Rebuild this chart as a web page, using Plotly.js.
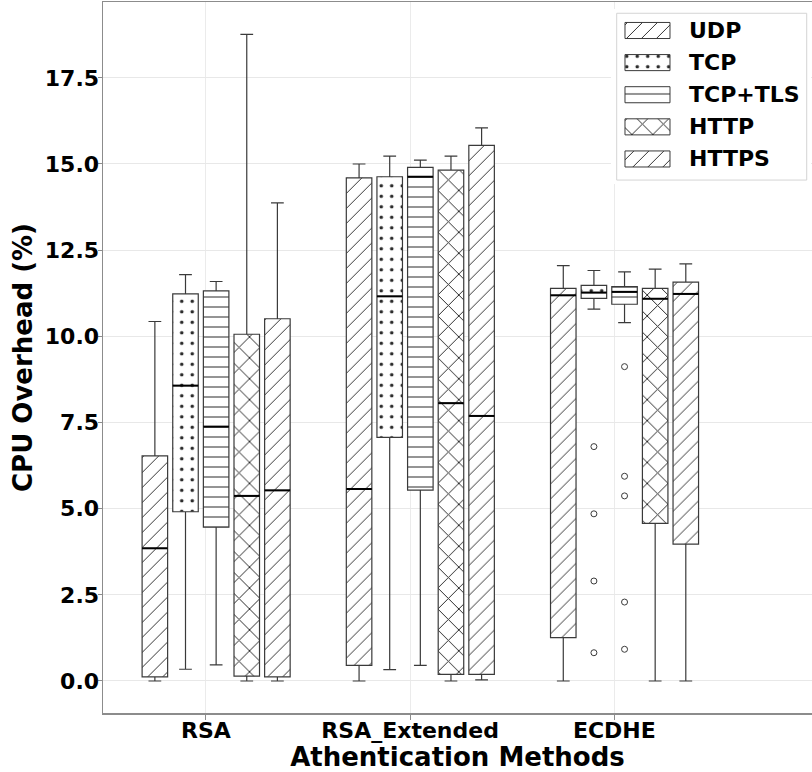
<!DOCTYPE html>
<html><head><meta charset="utf-8">
<script src="https://cdn.plot.ly/plotly-3.0.1.min.js"></script>
<style>html,body{margin:0;padding:0;background:#fff}</style>
</head><body>
<div id="chart" style="width:812px;height:772px"></div>
<script>
// ---------- data ----------
const categories = ['RSA', 'RSA_Extended', 'ECDHE'];
const protocols = ['UDP', 'TCP', 'TCP+TLS', 'HTTP', 'HTTPS'];

// each row: one protocol, values per category (RSA, RSA_Extended, ECDHE)
const whiskerLow = [
  [0.00, 0.00, 0.00],
  [0.34, 0.33, 10.79],
  [0.47, 0.45, 10.40],
  [0.00, 0.00, 0.00],
  [0.00, 0.03, 0.00]
];
const quartile1 = [
  [0.12, 0.45, 1.26],
  [4.91, 7.07, 11.10],
  [4.46, 5.54, 10.93],
  [0.14, 0.19, 4.57],
  [0.12, 0.19, 3.97]
];
const medians = [
  [3.85, 5.57, 11.19],
  [8.57, 11.16, 11.27],
  [7.38, 14.63, 11.29],
  [5.37, 8.06, 11.09],
  [5.53, 7.69, 11.23]
];
const quartile3 = [
  [6.53, 14.60, 11.39],
  [11.23, 14.63, 11.48],
  [11.32, 14.90, 11.44],
  [10.06, 14.82, 11.39],
  [10.51, 15.54, 11.57]
];
const whiskerHigh = [
  [10.43, 15.00, 12.05],
  [11.79, 15.23, 11.91],
  [11.59, 15.11, 11.87],
  [18.76, 15.23, 11.95],
  [13.87, 16.05, 12.10]
];
// fliers (all in the ECDHE group)
const fliersTCP = [6.80, 4.85, 2.90, 0.82];
const fliersTLS = [9.12, 5.94, 5.37, 2.29, 0.92];

const yTicks = [0, 2.5, 5, 7.5, 10, 12.5, 15, 17.5];

// ---------- styling ----------
const offsets = [-0.25, -0.10, 0.05, 0.20, 0.35];
const boxW = 0.125;
const patShape = ['/', '.', '-', 'x', '/'];
const patSize = [10.6, 10.5, 10, 14.8, 10.6];
const patSolid = [0.09, 0.09, 0.1, 0.13, 0.09];
const edge = '#3a3a3a';
const hatch = '#2a2a2a';
const fontFam = 'DejaVu Sans, Verdana, sans-serif';

const traces = [];
const catIdx = categories.map((c, i) => i);

// hatched box bodies (bars from q1 to q3)
protocols.forEach((p, k) => {
  traces.push({
    type: 'bar', name: p, showlegend: false, hoverinfo: 'skip',
    x: catIdx.map(i => i + offsets[k]),
    base: quartile1[k],
    y: quartile3[k].map((v, i) => v - quartile1[k][i]),
    width: boxW,
    marker: {
      color: 'white',
      line: {width: 0},
      pattern: {shape: patShape[k], size: patSize[k], solidity: patSolid[k],
                fgcolor: hatch, bgcolor: 'white', fgopacity: 1}
    }
  });
});

// box outlines & whiskers
protocols.forEach((p, k) => {
  traces.push({
    type: 'box', name: p, showlegend: false,
    x: catIdx.map(i => i + offsets[k]),
    q1: quartile1[k], median: medians[k], q3: quartile3[k],
    lowerfence: whiskerLow[k], upperfence: whiskerHigh[k],
    width: boxW, whiskerwidth: 0.5,
    boxpoints: false,
    fillcolor: 'rgba(0,0,0,0)',
    line: {color: edge, width: 1.2}
  });
});

// medians (black, thicker)
protocols.forEach((p, k) => {
  const xs = [], ys = [];
  catIdx.forEach(i => {
    const c = i + offsets[k];
    xs.push(c - boxW / 2, c + boxW / 2, null);
    ys.push(medians[k][i], medians[k][i], null);
  });
  traces.push({type: 'scatter', mode: 'lines', x: xs, y: ys, showlegend: false,
    hoverinfo: 'skip', line: {color: 'black', width: 2}});
});

// fliers
[[1, fliersTCP], [2, fliersTLS]].forEach(([k, arr]) => {
  traces.push({type: 'scatter', mode: 'markers', showlegend: false,
    x: arr.map(() => 2 + offsets[k]), y: arr,
    marker: {symbol: 'circle-open', size: 6, color: edge, line: {width: 1, color: edge}}});
});

// custom legend (drawn in an inset subplot)
traces.push({
  type: 'bar', orientation: 'h', xaxis: 'x2', yaxis: 'y2', showlegend: false,
  hoverinfo: 'skip',
  y: protocols.map((p, i) => i),
  x: protocols.map(() => 45),
  base: 8.3, width: 0.5,
  marker: {
    color: 'white', line: {color: edge, width: 1},
    pattern: {shape: patShape, size: patSize, solidity: patSolid,
              fgcolor: hatch, bgcolor: 'white', fgopacity: 1}
  }
});

const annotations = protocols.map((p, i) => ({
  xref: 'x2', yref: 'y2', x: 70, y: i, text: p, showarrow: false,
  xanchor: 'left', yanchor: 'middle',
  font: {family: fontFam, size: 22, weight: 'bold', color: 'black'}
}));

const layout = {
  width: 812, height: 772,
  margin: {l: 103, r: 0, t: 2, b: 59},
  paper_bgcolor: 'white', plot_bgcolor: 'white',
  showlegend: false, barmode: 'overlay', boxmode: 'overlay',
  xaxis: {
    range: [-0.504, 2.968],
    tickvals: catIdx, ticktext: categories,
    showgrid: true, gridcolor: '#ebebeb', gridwidth: 1,
    zeroline: false,
    showline: true, linecolor: '#8c8c8c', linewidth: 1.5, mirror: true,
    ticks: 'outside', ticklen: 5, tickcolor: '#8c8c8c', tickwidth: 1,
    ticklabelstandoff: -8,
    tickfont: {family: fontFam, size: 22, weight: 'bold', color: 'black'},
    title: {text: 'Athentication Methods', standoff: 1,
            font: {family: fontFam, size: 26, weight: 'bold', color: 'black'}}
  },
  yaxis: {
    range: [-0.929, 19.70],
    tickvals: yTicks, ticktext: yTicks.map(v => v.toFixed(1)),
    showgrid: true, gridcolor: '#e8e8e8', gridwidth: 1,
    zeroline: false,
    showline: true, linecolor: '#8c8c8c', linewidth: 1.5,
    ticks: 'outside', ticklen: 4, tickcolor: '#8c8c8c', tickwidth: 1,
    ticklabelstandoff: -6,
    tickfont: {family: fontFam, size: 22, weight: 'bold', color: 'black'},
    title: {text: 'CPU Overhead (%)', standoff: 4,
            font: {family: fontFam, size: 26, weight: 'bold', color: 'black'}}
  },
  xaxis2: {domain: [0.7165, 0.9986], range: [-5.7, 194.3], anchor: 'y2',
           visible: false, fixedrange: true},
  yaxis2: {domain: [0.744, 0.9902], range: [4.78, -0.67], anchor: 'x2',
           visible: false, fixedrange: true},
  shapes: [{
    type: 'rect', xref: 'x2', yref: 'y2', layer: 'below',
    x0: 0, x1: 190, y0: -0.536, y1: 4.657,
    fillcolor: 'white', line: {color: '#d4d4d4', width: 1}
  }],
  annotations: annotations
};

Plotly.newPlot('chart', traces, layout, {displayModeBar: false, staticPlot: true});
</script>
</body></html>
